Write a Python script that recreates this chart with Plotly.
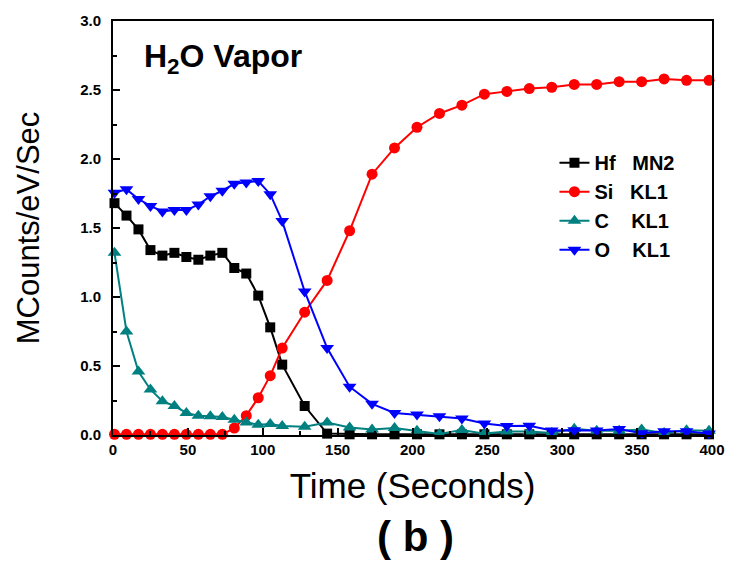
import plotly.graph_objects as go

time_s = [1, 9, 17, 25, 33, 41, 49, 57, 65, 73, 81, 89, 97, 105, 113,
          128, 143, 158, 173, 188, 203, 218, 233, 248, 263, 278, 293, 308,
          323, 338, 353, 368, 383, 398]

hf_mn2 = [1.68, 1.59, 1.49, 1.34, 1.30, 1.32, 1.29, 1.27, 1.30, 1.32, 1.21,
          1.17, 1.01, 0.78, 0.51, 0.21, 0.01, 0.005, 0.005, 0.005, 0.005,
          0.005, 0.005, 0.005, 0.005, 0.005, 0.005, 0.005, 0.005, 0.005,
          0.005, 0.005, 0.005, 0.005]

si_kl1 = [0.005, 0.005, 0.005, 0.005, 0.005, 0.005, 0.005, 0.005, 0.005,
          0.005, 0.05, 0.14, 0.27, 0.43, 0.63, 0.89, 1.12, 1.48, 1.89, 2.08,
          2.23, 2.33, 2.39, 2.47, 2.49, 2.51, 2.52, 2.54, 2.54, 2.56, 2.56,
          2.58, 2.57, 2.57]

c_kl1 = [1.32, 0.75, 0.46, 0.33, 0.245, 0.21, 0.16, 0.14, 0.135, 0.13, 0.11,
         0.09, 0.075, 0.08, 0.065, 0.06, 0.09, 0.055, 0.04, 0.05, 0.03, 0.008,
         0.037, 0.01, 0.025, 0.025, 0.015, 0.045, 0.03, 0.03, 0.04, 0.015,
         0.035, 0.03]

o_kl1 = [1.755, 1.78, 1.71, 1.66, 1.62, 1.63, 1.63, 1.67, 1.73, 1.77, 1.82,
         1.83, 1.84, 1.745, 1.55, 1.04, 0.63, 0.35, 0.226, 0.16, 0.148, 0.136,
         0.12, 0.083, 0.065, 0.067, 0.033, 0.035, 0.033, 0.044, 0.012, 0.027,
         0.027, 0.01]

NB = "\u00a0"
series = [
    ("Hf" + NB * 3 + "MN2", hf_mn2, "black", "square", 10),
    ("Si" + NB * 3 + "KL1", si_kl1, "#ff0000", "circle", 11),
    ("C" + NB * 4 + "KL1", c_kl1, "#008080", "triangle-up", 12),
    ("O" + NB * 4 + "KL1", o_kl1, "#0000ff", "triangle-down", 12),
]

FONT = "Liberation Sans, Arial, sans-serif"

fig = go.Figure()
for i, (name, vals, color, sym, size) in enumerate(series):
    fig.add_trace(go.Scatter(
        x=time_s, y=vals, name=name, mode="lines+markers",
        line=dict(color=color, width=2),
        marker=dict(symbol=sym, size=size, color=color),
        cliponaxis=False,
    ))

axis_common = dict(
    showline=True, linewidth=2, linecolor="black", mirror=True,
    ticks="inside", ticklen=7, tickwidth=2, tickcolor="black",
    showgrid=False, zeroline=False,
    tickfont=dict(family=FONT, size=15, color="black", weight="bold"),
)

fig.update_xaxes(
    range=[0, 400], tickvals=[0, 50, 100, 150, 200, 250, 300, 350, 400],
    minor=dict(ticks="inside", ticklen=4, tickwidth=2, tickcolor="black", dtick=25),
    title=dict(text="Time (Seconds)", font=dict(family=FONT, size=35, color="black"),
               standoff=16),
    **axis_common,
)
fig.update_yaxes(
    range=[0, 3.0], tickvals=[0, 0.5, 1.0, 1.5, 2.0, 2.5, 3.0], tickformat=".1f",
    minor=dict(ticks="inside", ticklen=4, tickwidth=2, tickcolor="black", dtick=0.25),
    ticklabelstandoff=7,
    title=dict(text="MCounts/eV/Sec", font=dict(family=FONT, size=31, color="black"),
               standoff=31),
    **axis_common,
)

fig.add_annotation(
    text="<b>H<sub>2</sub>O Vapor</b>", xref="paper", yref="paper",
    x=0.049, y=0.91, xanchor="left", yanchor="middle", showarrow=False,
    font=dict(family=FONT, size=32, color="black"),
)
fig.add_annotation(
    text="<b>( b )</b>", xref="paper", yref="paper",
    x=0.505, y=-0.245, xanchor="center", yanchor="middle", showarrow=False,
    font=dict(family=FONT, size=42, color="black"),
)

fig.update_layout(
    width=737, height=562,
    margin=dict(l=113, r=15, t=15, b=127),
    paper_bgcolor="white", plot_bgcolor="white",
    showlegend=True,
    legend=dict(
        x=0.737, y=0.705, xanchor="left", yanchor="top",
        bgcolor="rgba(0,0,0,0)", borderwidth=0,
        font=dict(family=FONT, size=20, color="black", weight="bold"),
    ),
)

fig.write_html("out.html")
